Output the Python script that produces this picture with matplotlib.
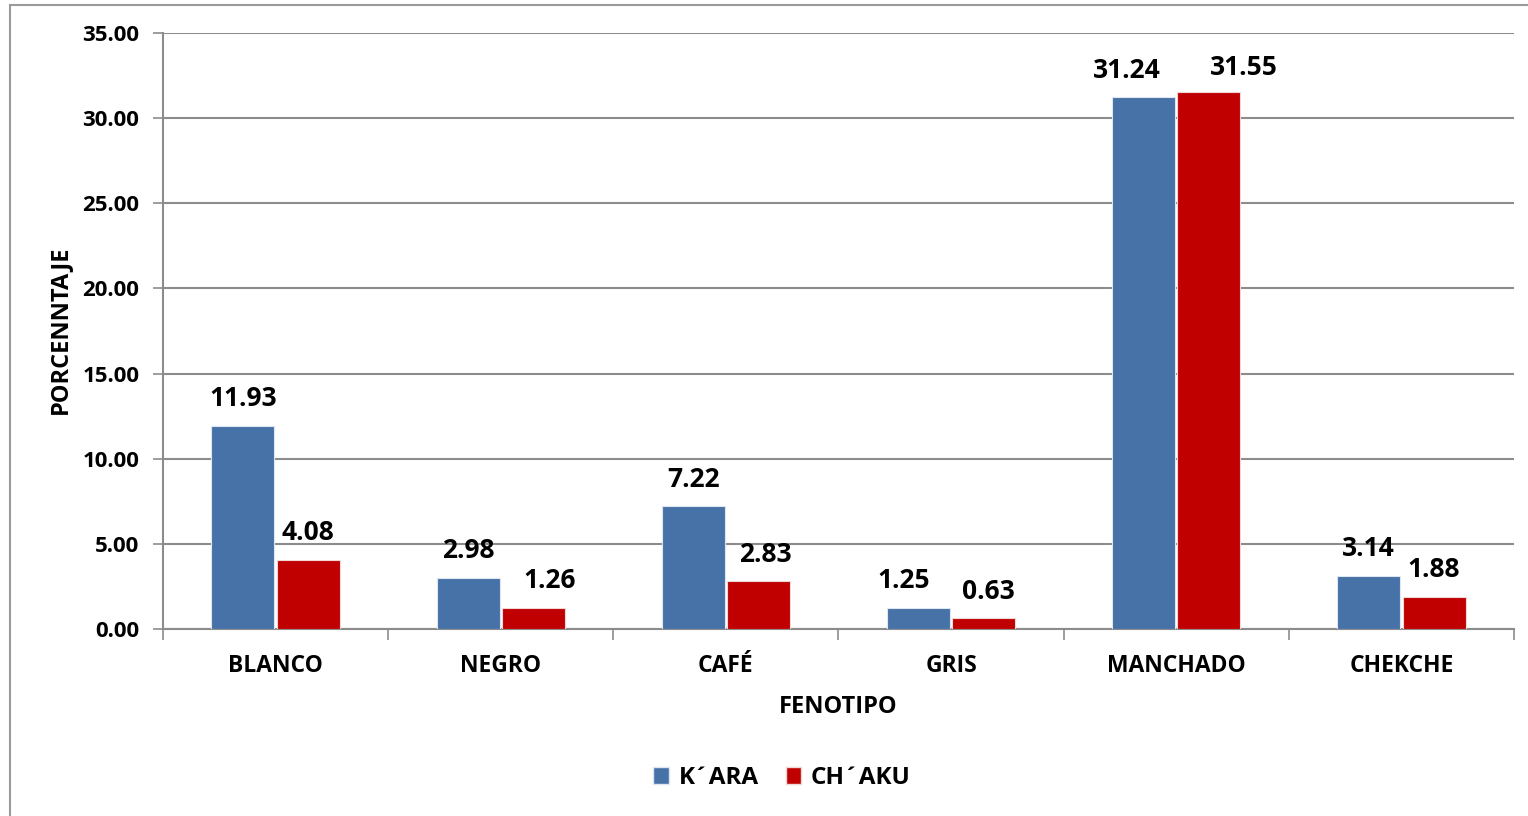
import numpy as np
import matplotlib
matplotlib.use("Agg")
import matplotlib.pyplot as plt
from matplotlib.patches import Patch, Rectangle

plt.rcParams['font.family'] = ['Open Sans', 'DejaVu Sans']
plt.rcParams['font.weight'] = 'bold'

# data
fenotipos = ['BLANCO', 'NEGRO', 'CAFÉ', 'GRIS', 'MANCHADO', 'CHEKCHE']
kara = [11.93, 2.98, 7.22, 1.25, 31.24, 3.14]
chaku = [4.08, 1.26, 2.83, 0.63, 31.55, 1.88]
series_names = ['K´ARA', 'CH´AKU']

# label nudges (pixels) so neighbouring labels don't collide
kara_dx = [0, 0, 0, -15, -17, 0]
kara_dy = [27, 28, 27, 27, 27, 27]
chaku_dx = [0, 16, 7, 5, 35, 0]
chaku_dy = [27, 27, 26, 27, 24, 27]

blue = '#4672a8'
red = '#c00000'
grid_col = '#8c8c8c'

fig = plt.figure(figsize=(15.28, 8.16), dpi=100)
ax = fig.add_axes([163 / 1528, 1 - 629 / 816, (1514 - 163) / 1528, (629 - 33) / 816])

# outer chart frame
fig.patches.append(Rectangle((10 / 1528, -0.1), 1.2, (816 - 5) / 816 + 0.1,
                             transform=fig.transFigure, fill=False,
                             edgecolor='#9a9a9a', linewidth=1.5))

x = np.arange(len(fenotipos))
w = 0.28
off = 0.145
b1 = ax.bar(x - off, kara, w, color=blue, edgecolor='#dfe6ef', linewidth=0.8, zorder=3)
b2 = ax.bar(x + off, chaku, w, color=red, edgecolor='#f0d8d8', linewidth=0.8, zorder=3)

for bars, vals, dxs, dys in [(b1, kara, kara_dx, kara_dy), (b2, chaku, chaku_dx, chaku_dy)]:
    for bar, v, dx, dy in zip(bars, vals, dxs, dys):
        ax.annotate(f'{v:.2f}', (bar.get_x() + bar.get_width() / 2, v),
                    xytext=(dx, dy), textcoords='offset pixels',
                    ha='center', va='center', fontsize=19, fontweight='bold')

ax.set_xlim(-0.5, len(fenotipos) - 0.5)
ax.set_ylim(0, 35)
ax.set_yticks(np.arange(0, 35.1, 5))
ax.set_yticklabels([f'{t:.2f}' for t in np.arange(0, 35.1, 5)])
ax.yaxis.grid(True, color=grid_col, linewidth=1.5, zorder=0)
ax.set_axisbelow(True)

ax.set_xticks(x)
ax.set_xticklabels(fenotipos)
ax.set_xticks(np.arange(-0.5, len(fenotipos)), minor=True)
ax.tick_params(axis='x', which='major', length=0, pad=18, labelsize=16.5)
ax.tick_params(axis='x', which='minor', length=8, width=1.2, color=grid_col, direction='out')
ax.tick_params(axis='y', length=7, width=1.2, color=grid_col, pad=10, labelsize=16)

for s in ['top', 'right']:
    ax.spines[s].set_visible(False)
for s in ['left', 'bottom']:
    ax.spines[s].set_color(grid_col)
    ax.spines[s].set_linewidth(1.5)

fig.text(60 / 1528, 1 - 330 / 816, 'PORCENNTAJE', rotation=90,
         ha='center', va='center', fontsize=17, fontweight='bold')
fig.text(838 / 1528, 1 - 707 / 816, 'FENOTIPO',
         ha='center', va='center', fontsize=17, fontweight='bold')

handles = [Patch(facecolor=blue, edgecolor='#dfe6ef', label=series_names[0]),
           Patch(facecolor=red, edgecolor='#f0d8d8', label=series_names[1])]
fig.legend(handles=handles, loc='center', bbox_to_anchor=(782 / 1528, 1 - 778 / 816),
           ncol=2, frameon=False, fontsize=17.5, handlelength=0.65, handleheight=0.65,
           handletextpad=0.4, columnspacing=1.1)

fig.savefig('out.png', dpi=100)
